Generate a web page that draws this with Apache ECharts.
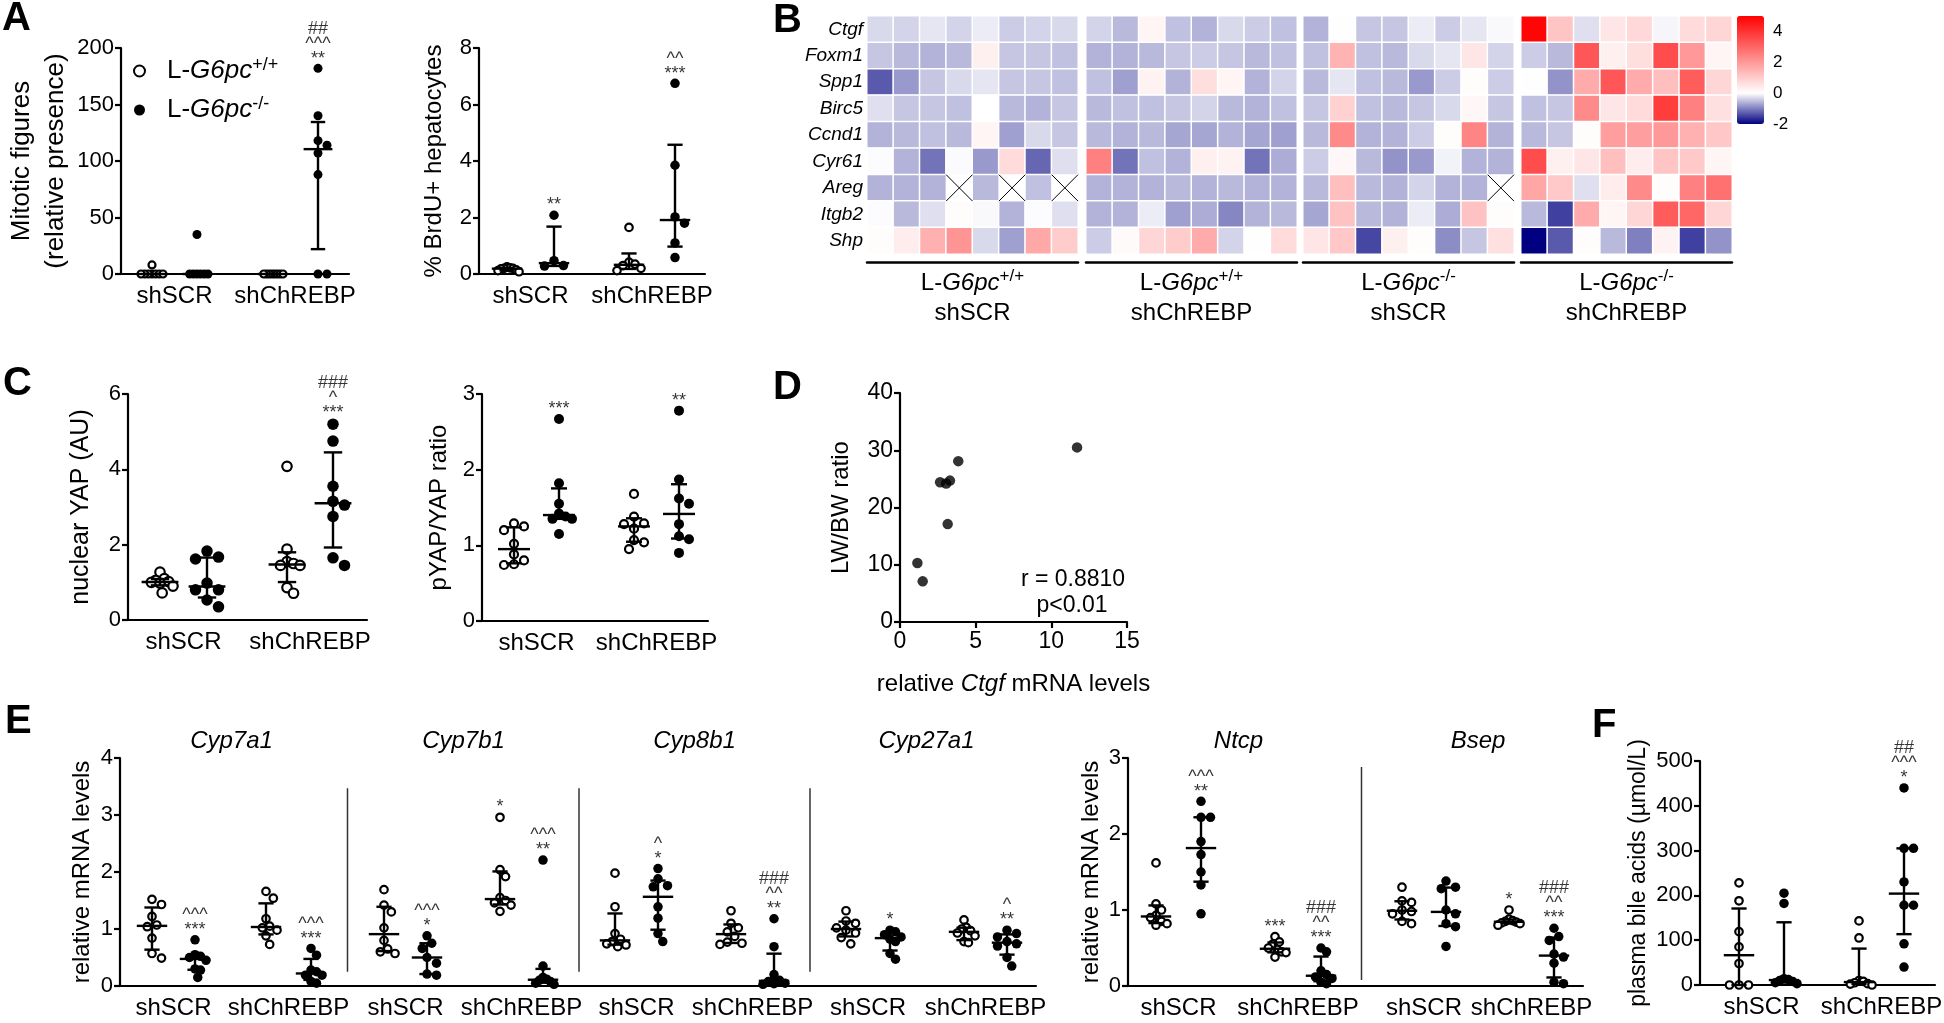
<!DOCTYPE html>
<html><head><meta charset="utf-8">
<script src="https://cdn.jsdelivr.net/npm/echarts@6/dist/echarts.min.js"></script>
<style>html,body{margin:0;padding:0;background:#fff;overflow:hidden}#chart{width:1944px;height:1023px}</style>
</head><body><div id="chart"></div>
<script>
// ================= DATA =================
const treatLabels = ['shSCR', 'shChREBP'];
// group order in every dot plot: [L-G6pc+/+ shSCR, L-G6pc-/- shSCR, L-G6pc+/+ shChREBP, L-G6pc-/- shChREBP]
const mitoticGroups = [[8,0,0,0,0,0,0,0],[35,0,0,0,0,0,0],[0,0,0,0,0,0,0,0],[182,140,118,114,107,88,0,0]];
const mitoticSig = ['', '', '', '##\n^^^\n**'];
const brduGroups = [[0.25,0.22,0.2,0.2,0.18,0.15,0.12,0.08],[2.08,0.47,0.3,0.28],[1.65,0.42,0.35,0.3,0.2,0.12],[6.75,3.85,2.02,1.8,1.1,0.58]];
const brduSig = ['', '**', '', '^^\n***'];
const yapGroups = [[1.27,1.1,1.05,1.02,1.0,0.98,0.9,0.72],[1.83,1.67,1.62,0.98,0.8,0.8,0.53,0.35],[4.08,1.88,1.55,1.5,1.45,1.45,0.86,0.71],[5.2,4.75,3.55,3.15,3.05,2.75,1.65,1.45]];
const yapSig = ['', '', '', '###\n^\n***'];
const pyapGroups = [[1.29,1.25,1.2,1.02,0.88,0.8,0.75,0.74],[2.67,1.82,1.55,1.42,1.38,1.35,1.35,1.15],[1.68,1.38,1.29,1.28,1.22,1.07,1.04,0.95],[2.78,1.87,1.62,1.55,1.28,1.12,1.08,0.9]];
const pyapSig = ['', '***', '', '**'];
const ctgfLevels = [1.15,1.5,2.65,3.05,3.3,3.15,3.85,11.7];
const lwbwRatio = [10.3,7.1,24.4,24.2,24.7,17.1,28.1,30.5];
const eGenes1 = ['Cyp7a1','Cyp7b1','Cyp8b1','Cyp27a1'];
const cyp7a1Groups = [[1.52,1.43,1.22,1.07,1.04,0.84,0.57,0.49],[0.81,0.55,0.52,0.5,0.45,0.3,0.28,0.15],[1.66,1.54,1.18,1.05,1.02,0.98,0.88,0.73],[0.66,0.54,0.28,0.25,0.19,0.19,0.08,0.05]];
const cyp7a1Sig = ['', '^^^\n***', '', '^^^\n***'];
const cyp7b1Groups = [[1.69,1.42,1.3,1.02,0.8,0.65,0.6,0.57],[0.88,0.75,0.66,0.5,0.4,0.21,0.19],[2.96,2.04,1.92,1.55,1.5,1.46,1.42,1.31],[2.21,0.35,0.15,0.12,0.1,0.08,0.05,0.03]];
const cyp7b1Sig = ['', '^^^\n*', '*', '^^^\n**'];
const cyp8b1Groups = [[1.98,1.39,0.92,0.82,0.78,0.74,0.72,0.69],[2.06,1.88,1.76,1.74,1.39,1.19,0.92,0.78],[1.32,1.1,1.02,0.95,0.87,0.77,0.75,0.73],[1.18,0.69,0.2,0.1,0.08,0.05,0.04,0.03]];
const cyp8b1Sig = ['', '^\n*', '', '###\n^^\n**'];
const cyp27a1Groups = [[1.32,1.14,1.1,1.02,0.98,0.93,0.85,0.74],[0.98,0.95,0.9,0.86,0.82,0.78,0.57,0.47],[1.16,1.03,1.0,0.97,0.93,0.88,0.78,0.76],[0.98,0.92,0.86,0.78,0.74,0.7,0.5,0.35]];
const cyp27a1Sig = ['', '*', '', '^\n**'];
const eGenes2 = ['Ntcp','Bsep'];
const ntcpGroups = [[1.62,1.08,1.0,0.93,0.9,0.85,0.82,0.8],[2.43,2.22,2.22,1.9,1.73,1.5,1.33,0.95],[0.65,0.58,0.55,0.5,0.48,0.45,0.44,0.38],[0.5,0.45,0.2,0.15,0.12,0.1,0.05,0.03]];
const ntcpSig = ['', '^^^\n**', '***', '###\n^^\n***'];
const bsepGroups = [[1.3,1.12,1.1,1.0,0.98,0.95,0.85,0.82],[1.38,1.3,1.28,1.0,0.95,0.82,0.78,0.52],[1.0,0.88,0.86,0.85,0.84,0.83,0.82,0.8],[0.76,0.65,0.6,0.42,0.38,0.3,0.05,0.03]];
const bsepSig = ['', '', '*', '###\n^^\n***'];
const bileGroups = [[228,188,119,85,48,0,0,0],[205,182,14,12,10,8,5,3],[143,105,10,8,5,3,2,0],[440,305,305,230,178,178,92,40]];
const bileSig = ['', '', '', '##\n^^^\n*'];
// heatmap (log2 fold change), rows = genes, 8 mice per group, null = missing
const heatGenes = ['Ctgf','Foxm1','Spp1','Birc5','Ccnd1','Cyr61','Areg','Itgb2','Shp'];
const heatWtShSCR = [
 [-0.3,-0.35,-0.2,-0.35,-0.15,-0.4,-0.35,-0.3],
 [-0.45,-0.55,-0.6,-0.55,0.3,-0.45,-0.45,-0.5],
 [-1.3,-0.8,-0.45,-0.3,-0.2,-0.45,-0.45,-0.5],
 [-0.25,-0.45,-0.45,-0.5,0,-0.55,-0.6,-0.45],
 [-0.6,-0.55,-0.5,-0.55,0.2,-0.75,-0.3,-0.45],
 [-0.02,-0.6,-1.1,-0.03,-0.8,0.7,-1.2,-0.25],
 [-0.6,-0.6,-0.6,null,-0.55,null,-0.5,null],
 [-0.02,-0.55,-0.25,0.05,-0.05,-0.6,-0.02,-0.25],
 [0.05,0.35,1.55,2.1,-0.3,-0.75,1.7,1.0]];
const heatWtShChREBP = [
 [-0.35,-0.55,0.2,-0.5,-0.6,-0.3,-0.4,-0.5],
 [-0.6,-0.6,-0.55,-0.45,-0.4,-0.45,-0.55,-0.5],
 [-0.5,-0.75,0.25,-0.6,0.65,0.2,-0.6,-0.35],
 [-0.55,-0.5,-0.5,-0.45,-0.35,-0.55,-0.6,-0.5],
 [-0.55,-0.6,-0.55,-0.7,-0.7,-0.6,-0.7,-0.75],
 [2.5,-1.1,-0.5,-0.6,0.3,0.25,-1.1,-0.65],
 [-0.6,-0.6,-0.6,-0.55,-0.6,-0.55,-0.6,-0.6],
 [-0.6,-0.6,-0.15,-0.75,-0.65,-0.95,-0.6,-0.55],
 [-0.4,0.1,0.8,1.0,1.65,-0.35,0.02,0.7]];
const heatKoShSCR = [
 [-0.6,0.02,-0.45,-0.45,-0.15,-0.4,-0.2,-0.05],
 [-0.5,1.5,-0.5,-0.55,-0.3,-0.2,0.5,-0.35],
 [-0.55,-0.2,-0.5,-0.55,-0.8,-0.4,0.05,-0.4],
 [-0.45,0.9,-0.5,-0.55,-0.45,-0.3,0.15,-0.45],
 [-0.55,2.3,-0.6,-0.6,-0.4,0.05,2.4,-0.6],
 [-0.4,0.15,-0.55,-0.85,-0.8,-0.1,-0.6,-0.6],
 [-0.55,1.25,-0.55,-0.6,-0.35,-0.6,-0.6,null],
 [-0.7,1.2,-0.55,-0.6,-0.15,-0.65,1.2,0.05],
 [0.5,1.1,-1.45,0.3,0.05,-0.9,-0.45,0.6]];
const heatKoShChREBP = [
 [4.9,1.15,-0.25,0.5,0.75,-0.08,0.7,0.8],
 [-0.4,-0.55,3.3,0.3,0.65,3.5,2.0,0.2],
 [0.02,-0.85,1.65,3.3,1.65,1.25,3.2,0.8],
 [-0.5,-0.45,2.3,0.5,0.7,3.8,2.5,0.6],
 [-0.55,-0.45,0.05,1.9,1.9,2.0,1.55,1.1],
 [3.5,0.3,0.5,1.25,0.35,1.15,1.05,0.2],
 [1.75,1.05,-0.25,0.35,2.3,0.05,2.5,2.8],
 [-0.55,-1.5,1.65,0.2,0.8,3.2,3.0,0.8],
 [-2.0,-1.3,0.05,-0.55,-1.0,0.25,-1.5,-0.85]];
const heatGroupNames = ['L-{i|G6pc}{sup|+/+}\nshSCR','L-{i|G6pc}{sup|+/+}\nshChREBP','L-{i|G6pc}{sup|-/-}\nshSCR','L-{i|G6pc}{sup|-/-}\nshChREBP'];
const heatScaleTicks = [-2, 0, 2, 4];

// ================= STYLE / LAYOUT =================
const FONT = "'Liberation Sans', Arial, Helvetica, sans-serif";
const heatColors = ['#000080','#8080C0','#FFFFFF','#FFCCCC','#FF9999','#FF6666','#FF3333','#FF0000'];
const WT = 'L-G6pc+/+', KO = 'L-G6pc-/-';
const TICK_FS = 22, CAT_FS = 24;
const option = {animation:false, backgroundColor:'#fff', textStyle:{fontFamily:FONT, color:'#000'},
  grid:[], xAxis:[], yAxis:[], series:[], graphic:[]};

function nearest(arr, v){let b=0,d=Infinity;arr.forEach((a,i)=>{if(Math.abs(a-v)<d){d=Math.abs(a-v);b=i;}});return b;}
function gpQuantile(s,p){const n=s.length,pos=p*(n+1);if(pos<=1)return s[0];if(pos>=n)return s[n-1];const lo=Math.floor(pos),fr=pos-lo;return s[lo-1]+fr*(s[lo]-s[lo-1]);}
function swarm(vals,yPx,diam,maxHalf){
  const idx=vals.map((v,i)=>i).sort((a,b)=>vals[b]-vals[a]);
  const placed=[],off=new Array(vals.length).fill(0),step=diam*0.5;
  for(const i of idx){const y=vals[i]*yPx;
    for(let k=0;k<80;k++){const c=k===0?0:(k%2?1:-1)*Math.ceil(k/2)*step;let ok=true;
      for(const p of placed){const dx=c-p.x,dy=y-p.y;if(dx*dx+dy*dy<(diam*0.92)**2){ok=false;break;}}
      if(ok){off[i]=c;placed.push({x:c,y});break;}}}
  const m=Math.max(...off.map(Math.abs));
  if(m>maxHalf)for(let i=0;i<off.length;i++)off[i]*=maxHalf/m;
  return off;
}
function makeBarRenderer(hw,cw){
  return function(params,api){
    const x=api.value(0),pm=api.coord([x,api.value(1)]),p1=api.coord([x,api.value(2)]),p3=api.coord([x,api.value(3)]);
    const st={stroke:'#000',lineWidth:2.4};
    return {type:'group',children:[
      {type:'line',shape:{x1:pm[0],y1:p1[1],x2:pm[0],y2:p3[1]},style:st},
      {type:'line',shape:{x1:pm[0]-hw,y1:pm[1],x2:pm[0]+hw,y2:pm[1]},style:st},
      {type:'line',shape:{x1:pm[0]-cw,y1:p1[1],x2:pm[0]+cw,y2:p1[1]},style:st},
      {type:'line',shape:{x1:pm[0]-cw,y1:p3[1],x2:pm[0]+cw,y2:p3[1]},style:st}]};
  };
}
const axisLineStyle={show:true,onZero:false,lineStyle:{color:'#000',width:2.2}};

function addDotPanel(cfg){
  const gi=option.grid.length;
  option.grid.push({left:cfg.left,top:cfg.top,width:cfg.width,height:cfg.height,containLabel:false,outerBoundsMode:'none'});
  const xs=cfg.groupsX.map(x=>x-cfg.left);
  const mids=[];for(let i=0;i<xs.length;i+=2)mids.push((xs[i]+xs[i+1])/2);
  const xi=option.xAxis.length;
  option.xAxis.push({type:'value',gridIndex:gi,min:0,max:cfg.width,splitLine:{show:false},axisTick:{show:false},axisLine:axisLineStyle,
    axisLabel:{customValues:mids,formatter:v=>treatLabels[nearest(mids,v)%2],fontSize:CAT_FS,color:'#000',fontFamily:FONT,margin:10}});
  if(cfg.genes){
    const centers=cfg.genes.map((g,k)=>(xs[4*k]+xs[4*k+3])/2);
    option.xAxis.push({type:'value',gridIndex:gi,position:'top',min:0,max:cfg.width,axisLine:{show:false},axisTick:{show:false},splitLine:{show:false},
      axisLabel:{customValues:centers,formatter:v=>cfg.genes[nearest(centers,v)],fontSize:24,fontStyle:'italic',color:'#000',fontFamily:FONT,margin:5}});
  }
  const yi=option.yAxis.length;
  option.yAxis.push({type:'value',gridIndex:gi,min:cfg.yMin,max:cfg.yMax,interval:cfg.yStep,splitLine:{show:false},axisLine:axisLineStyle,
    axisTick:{show:true,length:6,lineStyle:{color:'#000',width:2.2}},axisLabel:{fontSize:TICK_FS,color:'#000',fontFamily:FONT,margin:7},
    name:cfg.yName,nameLocation:'middle',nameGap:cfg.nameGap,nameMoveOverlap:false,nameTextStyle:{fontSize:cfg.nameFs,color:'#000',fontFamily:FONT,lineHeight:cfg.nameFs+8}});
  const yPx=cfg.height/(cfg.yMax-cfg.yMin);
  const open=[],filled=[],bars=[],ann=[];
  cfg.groups.forEach((vals,g)=>{
    const off=swarm(vals,yPx,cfg.sym,cfg.maxHalf);
    const pts=vals.map((v,i)=>[xs[g]+off[i],v]);
    (g%2===0?open:filled).push(...pts);
    const s=vals.slice().sort((a,b)=>a-b);
    bars.push([xs[g],gpQuantile(s,0.5),gpQuantile(s,0.25),gpQuantile(s,0.75)]);
    if(cfg.sig[g])ann.push({value:[xs[g],s[s.length-1]],name:cfg.sig[g]});
  });
  const c={xAxisIndex:xi,yAxisIndex:yi};
  option.series.push({type:'scatter',name:WT,...c,data:open,symbol:'circle',symbolSize:cfg.sym-2,itemStyle:{color:'#fff',borderColor:'#000',borderWidth:2.2,opacity:1},z:3,silent:true});
  option.series.push({type:'scatter',name:KO,...c,data:filled,symbol:'circle',symbolSize:cfg.sym,itemStyle:{color:'#000',opacity:1},z:3,silent:true});
  option.series.push({type:'custom',...c,data:bars,renderItem:makeBarRenderer(cfg.sym*1.6,cfg.sym*0.8),z:5,silent:true});
  option.series.push({type:'scatter',...c,data:ann,symbolSize:1,itemStyle:{color:'rgba(0,0,0,0)'},z:6,silent:true,
    label:{show:true,position:'top',distance:Math.max(0,cfg.sym/2-3),formatter:p=>p.name,fontSize:18,lineHeight:15,color:'#000',fontFamily:FONT}});
  if(cfg.genes){
    for(let k=0;k<cfg.genes.length-1;k++){
      const sx=(xs[4*k+3]+xs[4*k+4])/2;
      option.series.push({type:'line',...c,data:[[sx,cfg.sepY[0]],[sx,cfg.sepY[1]]],symbol:'none',lineStyle:{color:'#333',width:1.5},silent:true,z:2});
    }
  }
}

addDotPanel({left:121,top:48,width:228,height:226,yMin:0,yMax:200,yStep:50,groupsX:[152,197,272,318],groups:mitoticGroups,sig:mitoticSig,
  yName:'Mitotic figures\n(relative presence)',nameGap:48,nameFs:26,sym:9,maxHalf:11});
addDotPanel({left:479,top:48,width:226,height:226,yMin:0,yMax:8,yStep:2,groupsX:[507,554,629,675],groups:brduGroups,sig:brduSig,
  yName:'% BrdU+ hepatocytes',nameGap:29,nameFs:24,sym:9.5,maxHalf:12});
addDotPanel({left:128,top:394,width:239,height:226,yMin:0,yMax:6,yStep:2,groupsX:[160,207,287,333],groups:yapGroups,sig:yapSig,
  yName:'nuclear YAP (AU)',nameGap:30,nameFs:25,sym:11.5,maxHalf:13});
addDotPanel({left:482,top:394,width:226,height:227,yMin:0,yMax:3,yStep:1,groupsX:[514,559,634,679],groups:pyapGroups,sig:pyapSig,
  yName:'pYAP/YAP ratio',nameGap:27,nameFs:24,sym:10,maxHalf:13});
addDotPanel({left:120,top:758,width:916,height:228,yMin:0,yMax:4,yStep:1,
  groupsX:[152,195,266,311,384,427,500,543,615,658,731,774,846,890,964,1007],
  groups:[...cyp7a1Groups,...cyp7b1Groups,...cyp8b1Groups,...cyp27a1Groups],sig:[...cyp7a1Sig,...cyp7b1Sig,...cyp8b1Sig,...cyp27a1Sig],
  genes:eGenes1,sepY:[0.25,3.47],yName:'relative mRNA levels',nameGap:22,nameFs:24,sym:9.5,maxHalf:11});
addDotPanel({left:1128,top:758,width:455,height:228,yMin:0,yMax:3,yStep:1,groupsX:[1156,1201,1275,1321,1402,1446,1509,1554],
  groups:[...ntcpGroups,...bsepGroups],sig:[...ntcpSig,...bsepSig],genes:eGenes2,sepY:[0.08,2.88],yName:'relative mRNA levels',nameGap:21,nameFs:24,sym:9.5,maxHalf:11});
addDotPanel({left:1700,top:761,width:235,height:224,yMin:0,yMax:500,yStep:100,groupsX:[1739,1784,1859,1904],groups:bileGroups,sig:bileSig,
  yName:'plasma bile acids (µmol/L)',nameGap:46,nameFs:23,sym:9.5,maxHalf:13});

// ---- Panel D scatter ----
(function(){
  const gi=option.grid.length;
  option.grid.push({left:900,top:393,width:227,height:229,containLabel:false,outerBoundsMode:'none'});
  const xi=option.xAxis.length,yi=option.yAxis.length;
  option.xAxis.push({type:'value',gridIndex:gi,min:0,max:15,interval:5,splitLine:{show:false},axisLine:axisLineStyle,
    axisTick:{show:true,length:6,lineStyle:{color:'#000',width:2.2}},axisLabel:{fontSize:TICK_FS+1,color:'#000',fontFamily:FONT,margin:8},
    name:'relative {i|Ctgf} mRNA levels',nameLocation:'middle',nameGap:50,nameMoveOverlap:false,
    nameTextStyle:{fontSize:24,color:'#000',fontFamily:FONT,rich:{i:{fontStyle:'italic',fontSize:24,fontFamily:FONT}}}});
  option.yAxis.push({type:'value',gridIndex:gi,min:0,max:40,interval:10,splitLine:{show:false},axisLine:axisLineStyle,
    axisTick:{show:true,length:6,lineStyle:{color:'#000',width:2.2}},axisLabel:{fontSize:TICK_FS+1,color:'#000',fontFamily:FONT,margin:7},
    name:'LW/BW ratio',nameLocation:'middle',nameGap:47,nameMoveOverlap:false,nameTextStyle:{fontSize:24,color:'#000',fontFamily:FONT}});
  option.series.push({type:'scatter',xAxisIndex:xi,yAxisIndex:yi,data:ctgfLevels.map((x,i)=>[x,lwbwRatio[i]]),symbolSize:10.5,itemStyle:{color:'#000'},silent:true});
})();

// ---- Panel B heatmap ----
const heatLefts=[867,1086,1303,1521];
const heatSeries=[];
function renderCross(params,api){
  const c=api.coord([api.value(0),api.value(1)]),s=api.size([1,1]),w=s[0]/2,h=s[1]/2,st={stroke:'#000',lineWidth:1};
  return {type:'group',children:[{type:'line',shape:{x1:c[0]-w,y1:c[1]-h,x2:c[0]+w,y2:c[1]+h},style:st},
    {type:'line',shape:{x1:c[0]-w,y1:c[1]+h,x2:c[0]+w,y2:c[1]-h},style:st}]};
}
[heatWtShSCR,heatWtShChREBP,heatKoShSCR,heatKoShChREBP].forEach((mat,k)=>{
  const gi=option.grid.length;
  option.grid.push({left:heatLefts[k],top:16,width:211,height:238,containLabel:false,outerBoundsMode:'none'});
  const xi=option.xAxis.length,yi=option.yAxis.length;
  const cols=mat[0].map((v,i)=>String(i+1));
  option.xAxis.push({type:'category',gridIndex:gi,data:cols,position:'bottom',offset:8,axisLine:{show:true,lineStyle:{color:'#000',width:2.5}},
    axisTick:{show:false},axisLabel:{show:false},splitLine:{show:false},name:heatGroupNames[k],nameLocation:'middle',nameGap:6,nameMoveOverlap:false,
    nameTextStyle:{fontSize:24,color:'#000',fontFamily:FONT,lineHeight:30,rich:{i:{fontStyle:'italic',fontSize:24,fontFamily:FONT,lineHeight:30},
      sup:{fontSize:17,fontFamily:FONT,verticalAlign:'top',lineHeight:16}}}});
  option.yAxis.push({type:'category',gridIndex:gi,data:heatGenes,inverse:true,axisLine:{show:false},axisTick:{show:false},splitLine:{show:false},
    axisLabel:{show:k===0,fontStyle:'italic',fontSize:19,color:'#000',fontFamily:FONT,margin:4}});
  const data=[],miss=[];
  mat.forEach((row,r)=>row.forEach((v,c)=>{if(v===null)miss.push([c,r]);else data.push([c,r,v]);}));
  heatSeries.push(option.series.length);
  option.series.push({type:'heatmap',xAxisIndex:xi,yAxisIndex:yi,data:data,itemStyle:{borderColor:'#fff',borderWidth:1.5},emphasis:{disabled:true},silent:true});
  option.series.push({type:'custom',xAxisIndex:xi,yAxisIndex:yi,data:miss,renderItem:renderCross,silent:true,z:4});
});
// colour scale axis
(function(){
  const gi=option.grid.length;
  option.grid.push({left:1737,top:16,width:27,height:108,containLabel:false,outerBoundsMode:'none'});
  option.xAxis.push({type:'value',gridIndex:gi,show:false,min:0,max:1});
  option.yAxis.push({type:'value',gridIndex:gi,position:'right',min:-2,max:5,axisLine:{show:false},axisTick:{show:false},splitLine:{show:false},
    axisLabel:{customValues:heatScaleTicks,fontSize:17,color:'#000',fontFamily:FONT,margin:9}});
})();
option.visualMap={type:'continuous',min:-2,max:5,seriesIndex:heatSeries,calculable:false,orient:'vertical',left:1737,top:16,
  itemWidth:27,itemHeight:108,padding:0,inRange:{color:heatColors},hoverLink:false};

// legend (panel A)
option.legend={show:true,left:128,top:51,orient:'vertical',itemGap:9,itemWidth:11,itemHeight:11,selectedMode:false,
  data:[{name:WT,icon:'circle',itemStyle:{color:'#fff',borderColor:'#000',borderWidth:2}},{name:KO,icon:'circle',itemStyle:{color:'#000'}}],
  formatter:n=>n===WT?'L-{i|G6pc}{sup|+/+}':'L-{i|G6pc}{sup|-/-}',
  textStyle:{fontSize:26,color:'#000',fontFamily:FONT,padding:[0,0,0,17],lineHeight:30,
    rich:{i:{fontStyle:'italic',fontSize:26,fontFamily:FONT,lineHeight:30},sup:{fontSize:18,fontFamily:FONT,verticalAlign:'top',lineHeight:16}}}};

// panel letters & D statistics
[['A',2,19],['B',773,21],['C',3,384],['D',773,388],['E',5,722],['F',1592,726]].forEach(([t,x,y])=>{
  option.graphic.push({type:'text',left:x,top:y-20,style:{text:t,fontSize:40,fontWeight:'bold',fontFamily:FONT,fill:'#000'}});
});
option.graphic.push({type:'text',x:1073,y:580,style:{text:'r = 0.8810',fontSize:23,fontFamily:FONT,fill:'#000',align:'center',verticalAlign:'middle'}});
option.graphic.push({type:'text',x:1072,y:606,style:{text:'p<0.01',fontSize:23,fontFamily:FONT,fill:'#000',align:'center',verticalAlign:'middle'}});

const chart=echarts.init(document.getElementById('chart'),null,{renderer:'canvas'});
chart.setOption(option);
</script></body></html>
